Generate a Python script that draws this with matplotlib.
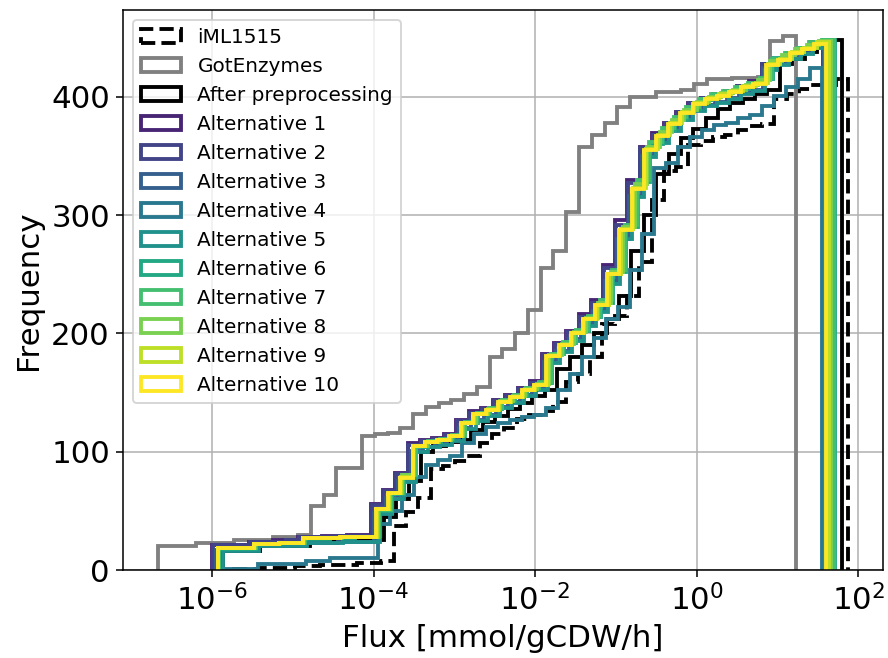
import numpy as np
import matplotlib
matplotlib.use("Agg")
import matplotlib.pyplot as plt

labels = ["iML1515", "GotEnzymes", "After preprocessing"] + ["Alternative %d" % i for i in range(1, 11)]

# log10 of first and last bin edge of each curve (50 log bins each)
lo = [-5.726, -6.671, -5.862, -5.995, -5.986, -5.949, -5.875, -5.862, -5.912, -5.918, -5.924, -5.931, -5.928]
hi = [1.873, 1.229, 1.795, 1.559, 1.569, 1.575, 1.551, 1.588, 1.712, 1.699, 1.668, 1.637, 1.606]

# cumulative counts
iml = [1, 1, 2, 2, 2, 3, 3, 4, 4, 4, 6, 6, 8,
       37, 49, 61, 85, 88, 92, 96, 107, 115, 120, 128, 131, 134, 142, 159, 166, 180, 208, 215, 232,
       260, 313, 337, 341, 359, 363, 366, 368, 372, 375, 377, 398, 402, 407, 410, 410, 415]
got = [20, 20, 20, 23, 23, 23, 25, 25, 25, 28, 28, 30, 54, 63, 86, 86, 113, 115, 116, 120,
       132, 138, 141, 144, 149, 155, 180, 187, 200, 220, 255, 270, 303, 358, 368, 378, 391, 400,
       400, 404, 404, 406, 411, 415, 415, 416, 416, 417, 447, 451]
prep = [16, 16, 16, 20, 20, 20, 20, 25, 25, 25, 25, 25, 25,
        45, 60, 75, 100, 105, 108, 110, 118, 125, 130, 136, 141, 147, 152, 170, 180, 190, 200, 212, 232,
        270, 300, 335, 352, 365, 373, 382, 390, 395, 398, 402, 406, 428, 432, 438, 442, 448]
alt1 = [21, 21, 21, 24, 24, 25, 25, 28, 28, 29, 29, 30, 30,
        56, 68, 82, 107, 110, 112, 115, 127, 134, 137, 144, 148, 154, 160, 183, 192, 202, 216, 228, 258,
        296, 330, 358, 369, 378, 387, 395, 399, 402, 405, 409, 413, 428, 432, 437, 441, 446]
alt2 = [21, 21, 21, 24, 24, 24, 25, 28, 28, 28, 29, 29, 29,
        55, 67, 81, 106, 109, 111, 114, 126, 133, 136, 143, 147, 153, 158, 182, 191, 201, 214, 226, 255,
        292, 327, 357, 368, 378, 387, 395, 399, 402, 405, 409, 412, 428, 432, 437, 441, 445]
alt3 = [17, 17, 17, 20, 20, 20, 21, 23, 23, 23, 24, 24, 24,
        48, 61, 75, 101, 104, 107, 110, 120, 127, 131, 138, 142, 148, 153, 176, 185, 195, 207, 219, 244,
        280, 316, 350, 362, 372, 381, 389, 393, 396, 399, 403, 406, 424, 428, 433, 437, 442]
alt4 = [1, 1, 1, 5, 5, 5, 5, 8, 8, 10, 10, 10, 10,
        39, 50, 63, 79, 89, 93, 96, 107, 115, 121, 124, 127, 129, 131, 137, 152, 166, 180, 196, 212,
        222, 254, 284, 340, 344, 358, 366, 372, 376, 378, 382, 385, 392, 401, 408, 415, 424]
alt5 = [16, 16, 16, 20, 20, 20, 20, 23, 23, 23, 24, 24, 24,
        47, 60, 74, 100, 104, 106, 109, 119, 126, 130, 137, 141, 147, 152, 175, 184, 194, 206, 218, 242,
        280, 315, 349, 361, 371, 380, 388, 392, 395, 398, 402, 405, 423, 427, 432, 436, 441]
alt6 = [18, 18, 18, 22, 22, 23, 23, 26, 26, 27, 27, 28, 28,
        50, 64, 79, 104, 108, 110, 113, 124, 132, 136, 143, 147, 153, 158, 183, 192, 202, 214, 226, 252,
        290, 328, 360, 372, 381, 390, 397, 401, 404, 407, 411, 415, 433, 437, 441, 445, 448]
alt7 = [19, 19, 19, 22, 22, 23, 23, 27, 27, 27, 28, 28, 28,
        51, 65, 80, 105, 109, 111, 114, 125, 133, 137, 144, 148, 154, 159, 183, 193, 203, 215, 228, 254,
        292, 330, 362, 374, 383, 391, 398, 402, 405, 408, 412, 416, 432, 437, 441, 446, 448]
alt8 = [19, 19, 19, 22, 22, 23, 23, 27, 27, 27, 28, 28, 28,
        52, 65, 80, 105, 108, 110, 113, 124, 132, 136, 143, 147, 153, 157, 182, 191, 201, 213, 226, 252,
        290, 326, 358, 370, 380, 389, 396, 400, 403, 406, 410, 414, 430, 435, 440, 444, 447]
alt9 = [19, 19, 19, 22, 22, 23, 23, 27, 27, 27, 28, 28, 28,
        52, 65, 79, 105, 108, 110, 113, 124, 132, 135, 142, 146, 152, 156, 181, 190, 200, 212, 224, 250,
        288, 323, 356, 368, 378, 387, 395, 399, 402, 405, 409, 412, 428, 432, 438, 441, 446]
alt10 = [19, 19, 19, 22, 22, 23, 23, 27, 27, 27, 28, 28, 28,
         52, 65, 78, 105, 108, 110, 113, 124, 132, 135, 142, 146, 152, 156, 181, 190, 200, 212, 224, 250,
         287, 322, 355, 367, 377, 386, 394, 398, 401, 404, 408, 411, 427, 431, 437, 440, 445]

counts = [iml, got, prep, alt1, alt2, alt3, alt4, alt5, alt6, alt7, alt8, alt9, alt10]
colors = ["black", "grey", "black"] + list(plt.cm.viridis(np.linspace(0.1, 1, 10)))
styles = ["--"] + ["-"] * 12

fig = plt.figure(figsize=(6.4, 4.7425), dpi=138.75)
ax = fig.add_subplot(111)
fig.subplots_adjust(left=0.1389, right=0.994, bottom=0.1337, top=0.9848)

for i in range(len(labels)):
    edges = np.logspace(lo[i], hi[i], len(counts[i]) + 1)
    mids = np.sqrt(edges[:-1] * edges[1:])
    w = np.diff(counts[i], prepend=0)
    ax.hist(mids, bins=edges, weights=w, cumulative=True, histtype="step",
            color=colors[i], ls=styles[i], lw=2, label=labels[i])

ax.set_xscale("log")
ax.set_xlim(10 ** -7.097, 10 ** 2.302)
ax.set_ylim(0, 473.4)
ax.set_xticks([1e-6, 1e-4, 1e-2, 1e0, 1e2])
ax.set_yticks([0, 100, 200, 300, 400])
ax.minorticks_off()
ax.tick_params(labelsize=16)
ax.set_xlabel("Flux [mmol/gCDW/h]", fontsize=16)
ax.set_ylabel("Frequency", fontsize=16)
ax.grid(True)
ax.legend(loc="upper left", fontsize=10.4)

fig.savefig("out.png", dpi=138.75)
